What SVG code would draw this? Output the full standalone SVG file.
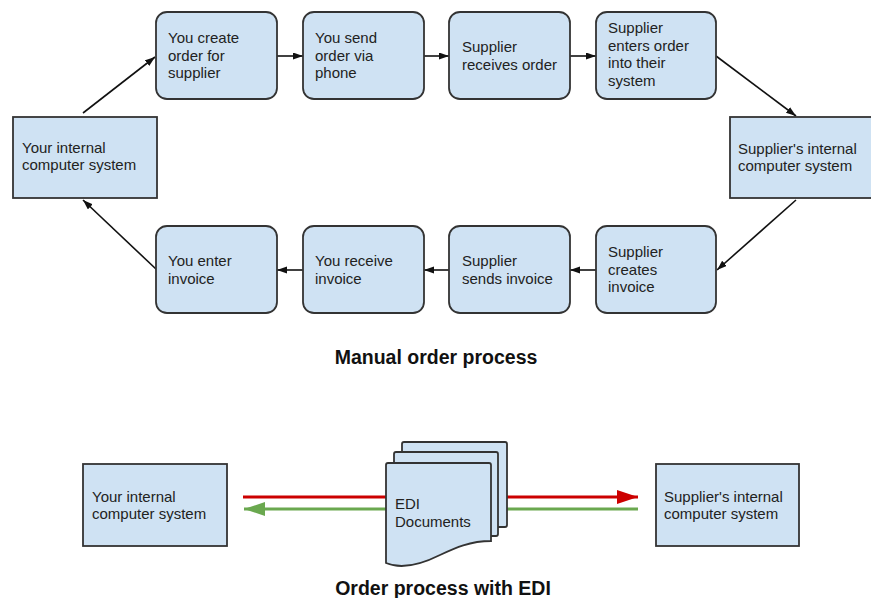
<svg xmlns="http://www.w3.org/2000/svg" width="871" height="598" viewBox="0 0 871 598">
  <defs>
    <style>
      .box { fill: #cfe2f3; stroke: #333333; stroke-width: 1.8; }
      .lbl { font-family: "Liberation Sans", Arial, sans-serif; font-size: 15px; fill: #222222; }
      .title { font-family: "Liberation Sans", Arial, sans-serif; font-size: 19.5px; font-weight: bold; fill: #111111; text-anchor: middle; }
      .flow { stroke: #111111; stroke-width: 1.6; fill: none; marker-end: url(#arrow); }
    </style>
    <marker id="arrow" markerUnits="userSpaceOnUse" markerWidth="10" markerHeight="8" refX="10" refY="3.5" orient="auto">
      <path d="M0,0 L10,3.5 L0,7 z" fill="#111111"/>
    </marker>
    <marker id="arrowRed" markerUnits="userSpaceOnUse" markerWidth="21" markerHeight="15" refX="21" refY="7" orient="auto">
      <path d="M0,0 L21,7 L0,14 z" fill="#cc0000"/>
    </marker>
    <marker id="arrowGreen" markerUnits="userSpaceOnUse" markerWidth="21" markerHeight="15" refX="21" refY="7" orient="auto">
      <path d="M0,0 L21,7 L0,14 z" fill="#6aa84f"/>
    </marker>
  </defs>

  <rect width="871" height="598" fill="#ffffff"/>

  <!-- manual order process: connectors -->
  <g id="connectors">
    <line class="flow" x1="83" y1="113" x2="155" y2="57"/>
    <line class="flow" x1="277" y1="56" x2="303" y2="56"/>
    <line class="flow" x1="424" y1="56" x2="449" y2="56"/>
    <line class="flow" x1="570" y1="56" x2="596" y2="56"/>
    <line class="flow" x1="716" y1="56" x2="796" y2="116"/>
    <line class="flow" x1="796" y1="200" x2="717" y2="270"/>
    <line class="flow" x1="596" y1="270" x2="570" y2="270"/>
    <line class="flow" x1="449" y1="270" x2="424" y2="270"/>
    <line class="flow" x1="303" y1="270" x2="277" y2="270"/>
    <line class="flow" x1="157" y1="270" x2="83" y2="200"/>
  </g>

  <!-- manual order process: nodes -->
  <g id="your-system">
    <rect class="box" x="13" y="117" width="144" height="81"/>
    <text class="lbl" x="22"><tspan y="153">Your internal</tspan><tspan x="22" y="170">computer system</tspan></text>
  </g>
  <g id="create-order">
    <rect class="box" x="156" y="12" width="121" height="87" rx="11"/>
    <text class="lbl" x="168"><tspan y="43">You create</tspan><tspan x="168" y="60.5">order for</tspan><tspan x="168" y="78">supplier</tspan></text>
  </g>
  <g id="send-order">
    <rect class="box" x="303" y="12" width="121" height="87" rx="11"/>
    <text class="lbl" x="315"><tspan y="43">You send</tspan><tspan x="315" y="60.5">order via</tspan><tspan x="315" y="78">phone</tspan></text>
  </g>
  <g id="supplier-receives">
    <rect class="box" x="449" y="12" width="121" height="87" rx="11"/>
    <text class="lbl" x="462"><tspan y="52">Supplier</tspan><tspan x="462" y="69.5">receives order</tspan></text>
  </g>
  <g id="supplier-enters">
    <rect class="box" x="596" y="12" width="120" height="87" rx="11"/>
    <text class="lbl" x="608"><tspan y="33">Supplier</tspan><tspan x="608" y="50.5">enters order</tspan><tspan x="608" y="68">into their</tspan><tspan x="608" y="85.5">system</tspan></text>
  </g>
  <g id="supplier-system">
    <rect class="box" x="730" y="117" width="150" height="81"/>
    <text class="lbl" x="738"><tspan y="154">Supplier's internal</tspan><tspan x="738" y="171">computer system</tspan></text>
  </g>
  <g id="supplier-creates">
    <rect class="box" x="596" y="226" width="120" height="87" rx="11"/>
    <text class="lbl" x="608"><tspan y="257">Supplier</tspan><tspan x="608" y="274.5">creates</tspan><tspan x="608" y="292">invoice</tspan></text>
  </g>
  <g id="supplier-sends">
    <rect class="box" x="449" y="226" width="121" height="87" rx="11"/>
    <text class="lbl" x="462"><tspan y="266">Supplier</tspan><tspan x="462" y="283.5">sends invoice</tspan></text>
  </g>
  <g id="receive-invoice">
    <rect class="box" x="303" y="226" width="121" height="87" rx="11"/>
    <text class="lbl" x="315"><tspan y="266">You receive</tspan><tspan x="315" y="283.5">invoice</tspan></text>
  </g>
  <g id="enter-invoice">
    <rect class="box" x="156" y="226" width="121" height="87" rx="11"/>
    <text class="lbl" x="168"><tspan y="266">You enter</tspan><tspan x="168" y="283.5">invoice</tspan></text>
  </g>

  <text class="title" x="436" y="364">Manual order process</text>

  <!-- EDI exchange: flows pass behind the document stack -->
  <g id="edi-connectors">
    <line x1="243" y1="497" x2="638" y2="497" stroke="#cc0000" stroke-width="3" marker-end="url(#arrowRed)"/>
    <line x1="638" y1="509" x2="244" y2="509" stroke="#6aa84f" stroke-width="3" marker-end="url(#arrowGreen)"/>
  </g>

  <g id="edi-your-system">
    <rect class="box" x="83" y="464" width="144" height="82"/>
    <text class="lbl" x="92"><tspan y="502">Your internal</tspan><tspan x="92" y="519">computer system</tspan></text>
  </g>
  <g id="edi-supplier-system">
    <rect class="box" x="656" y="464" width="143" height="82"/>
    <text class="lbl" x="664"><tspan y="502">Supplier's internal</tspan><tspan x="664" y="519">computer system</tspan></text>
  </g>

  <g id="edi-documents">
    <rect class="box" x="402" y="442" width="105" height="85" rx="2"/>
    <rect class="box" x="394" y="452" width="104" height="84" rx="2"/>
    <path class="box" d="M388,463 L489,463 Q491,463 491,465 L491,541 C470,541 455,548 440,555 C420,565 400,569 386,563 L386,465 Q386,463 388,463 Z"/>
    <text class="lbl" x="395"><tspan y="509">EDI</tspan><tspan x="395" y="527">Documents</tspan></text>
  </g>

  <text class="title" x="443" y="595">Order process with EDI</text>
</svg>
